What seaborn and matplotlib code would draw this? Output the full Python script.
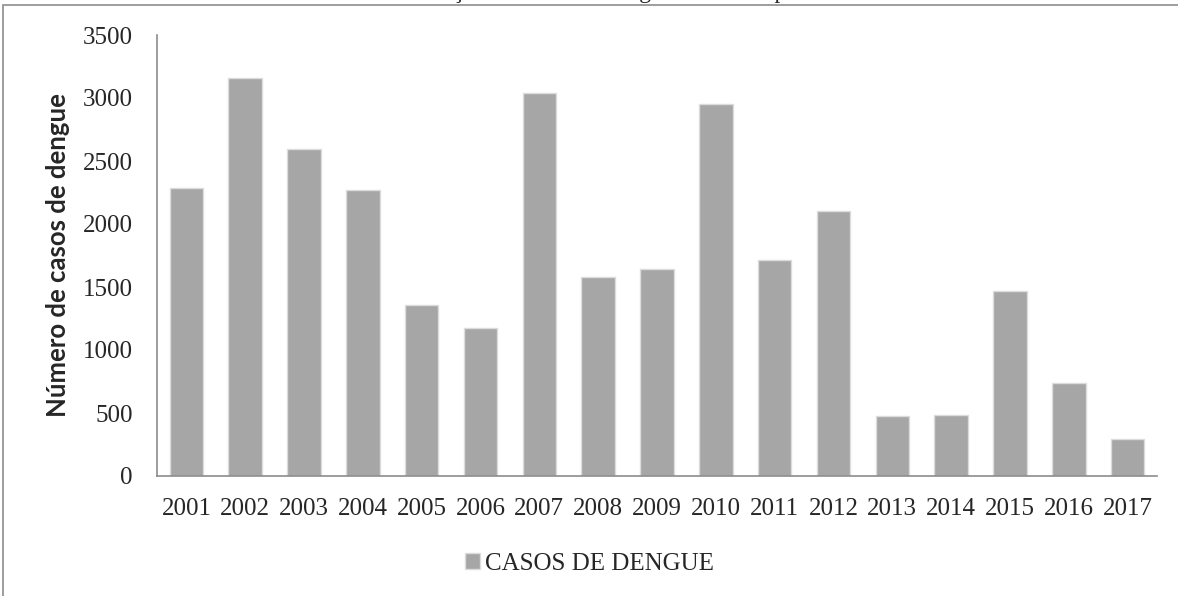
import numpy as np
import pandas as pd
import matplotlib
matplotlib.use('Agg')
import matplotlib.pyplot as plt
import seaborn as sns
from matplotlib.patches import Rectangle

# Data
years = ['2001', '2002', '2003', '2004', '2005', '2006', '2007', '2008', '2009',
         '2010', '2011', '2012', '2013', '2014', '2015', '2016', '2017']
cases = [2283, 3162, 2592, 2270, 1358, 1176, 3036, 1580, 1643,
         2950, 1712, 2106, 475, 488, 1472, 737, 292]
series_label = 'CASOS DE DENGUE'
y_ticks = [0, 500, 1000, 1500, 2000, 2500, 3000, 3500]
y_label = 'Número de casos de dengue'
title = 'Gráfico 1 - Distribuição de casos de dengue no município de 2001 a 2017'

sns.set_style('white')
plt.rcParams['font.family'] = ['Liberation Serif', 'DejaVu Serif']

df = pd.DataFrame({'Ano': years, 'Casos': cases})

fig = plt.figure(figsize=(11.78, 5.96), dpi=100)
ax = fig.add_axes([157 / 1178, 1 - 476 / 596, 1000 / 1178, 441 / 596])

sns.barplot(data=df, x='Ano', y='Casos', color='#a6a6a6', saturation=1,
            width=0.57, edgecolor='#dcdcdc', linewidth=1,
            label=series_label, ax=ax)

ax.set_ylim(0, 3500)
ax.set_xlim(-0.5, len(years) - 0.5)
ax.set_yticks(y_ticks)
ax.set_xlabel('')
ax.set_ylabel(y_label, family=['Lato', 'DejaVu Sans'], fontweight='bold',
              fontsize=18.5, labelpad=9)
ax.tick_params(axis='both', length=0, labelsize=18)
ax.tick_params(axis='y', pad=17.5)
ax.tick_params(axis='x', pad=16)

for side in ['top', 'right']:
    ax.spines[side].set_visible(False)
for side in ['left', 'bottom']:
    ax.spines[side].set_color('#8c8c8c')
    ax.spines[side].set_linewidth(1.2)

ax.legend(loc='center', bbox_to_anchor=(0.5, 1 - 564 / 596),
          bbox_transform=fig.transFigure, frameon=False, fontsize=18,
          handlelength=0.6, handleheight=0.6, handletextpad=0.2)

# outer chart frame (cut off at right and bottom in the original)
fig.patches.append(Rectangle((3 / 1178, -0.1), 1.2, 1.1 - 5 / 596,
                             transform=fig.transFigure, fill=False,
                             edgecolor='#8c8c8c', linewidth=1.2))

# title is cut off by the top edge in the original, only descenders show
fig.text(0.515, 1 + 2 / 596, title, ha='center', va='baseline', fontsize=17)

fig.savefig('out.png', dpi=100)
